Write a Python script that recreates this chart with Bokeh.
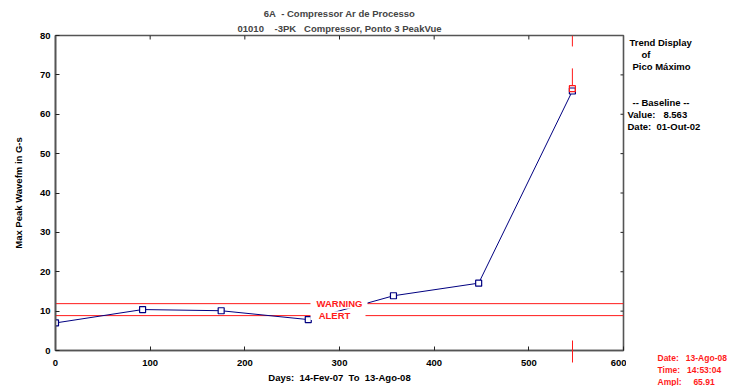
from bokeh.plotting import figure
from bokeh.models import Range1d, FixedTicker, Title
from bokeh.layouts import row
from bokeh.core.properties import value
from bokeh.embed import file_html
from bokeh.resources import INLINE

NB = "\u00a0"

# ---- data ----
days = [0, 92, 175, 267, 357, 447, 546]
peak = [7.0, 10.4, 10.1, 7.85, 13.9, 17.1, 65.91]
warning_level = 11.9
alert_level = 8.86
cursor_day = 546
cursor_value = 66.5
x_ticks = [0, 100, 200, 300, 400, 500, 600]
y_ticks = [0, 10, 20, 30, 40, 50, 60, 70, 80]

title1 = "6A" + NB * 2 + "- Compressor Ar de Processo"
title2 = "01010" + NB * 4 + "-3PK" + NB * 3 + "Compressor, Ponto 3 PeakVue"
x_label = "Days:" + NB * 2 + "14-Fev-07" + NB * 2 + "To" + NB * 2 + "13-Ago-08"
y_label = "Max Peak Wavefm in G-s"
side_lines = ["Trend Display", "of", "Pico M\u00e1ximo", "--" + NB + "Baseline" + NB + "--",
              "Value:" + NB * 3 + "8.563", "Date:" + NB * 2 + "01-Out-02"]
cursor_lines = ["Date:" + NB * 3 + "13-Ago-08", "Time:" + NB * 3 + "14:53:04", "Ampl:" + NB * 5 + "65.91"]

FONT = "Liberation Sans"
FS = "9.5px"
RED = "#ff1a1a"
NAVY = "#000080"
AX = "#555555"

# frame geometry in page pixels (used only to place annotations)
FX0, FX1, FY0, FY1 = 55, 623, 35, 351
XMAX, YMAX = x_ticks[-1], y_ticks[-1]
def dx(px):
    return (px - FX0) / (FX1 - FX0) * XMAX
def dy(py):
    return (FY1 - py) / (FY1 - FY0) * YMAX
PXX = XMAX / (FX1 - FX0)   # data units per pixel (x)
PXY = YMAX / (FY1 - FY0)   # data units per pixel (y)

p = figure(width=626, height=386, output_backend="svg", toolbar_location=None,
           x_range=Range1d(0, XMAX), y_range=Range1d(0, YMAX),
           min_border_left=55, min_border_right=3, min_border_top=35, min_border_bottom=35)
p.grid.visible = False
p.outline_line_color = AX
p.outline_line_width = 1.6
p.background_fill_color = "white"
p.border_fill_color = "white"

for ax in (p.xaxis[0], p.yaxis[0]):
    ax.axis_line_color = AX
    ax.axis_line_width = 1.6
    ax.major_tick_line_color = "#222222"
    ax.major_tick_in = 4
    ax.major_tick_out = 0
    ax.major_label_text_font = FONT
    ax.major_label_text_font_style = "bold"
    ax.major_label_text_font_size = FS
    ax.major_label_text_color = "black"
    ax.axis_label_text_font = FONT
    ax.axis_label_text_font_style = "bold"
    ax.axis_label_text_font_size = FS
    ax.axis_label_text_color = "black"

p.xaxis.ticker = FixedTicker(ticks=x_ticks, minor_ticks=[cursor_day])
p.xaxis.minor_tick_line_color = RED
p.xaxis.minor_tick_line_width = 1
p.xaxis.minor_tick_in = 10
p.xaxis.minor_tick_out = 12
p.xaxis.major_label_standoff = -3
p.xaxis.axis_label = x_label
p.xaxis.axis_label_standoff = 3

p.yaxis.ticker = FixedTicker(ticks=y_ticks)
p.yaxis.minor_tick_line_color = None
p.yaxis.major_label_standoff = 5
p.yaxis.axis_label = y_label
p.yaxis.axis_label_standoff = 13

# titles (later added = further from frame)
p.add_layout(Title(text=title2, align="center", text_font=FONT, text_font_style="bold",
                   text_font_size=FS, standoff=4), "above")
p.add_layout(Title(text=title1, align="center", text_font=FONT, text_font_style="bold",
                   text_font_size=FS, standoff=0), "above")

# inner tick marks on top and right edges of the frame
p.segment(x0=x_ticks[1:-1], y0=[YMAX] * (len(x_ticks) - 2), x1=x_ticks[1:-1],
          y1=[YMAX - 4 * PXY] * (len(x_ticks) - 2), line_color="#222222", line_width=1)
p.segment(x0=[XMAX] * (len(y_ticks) - 2), y0=y_ticks[1:-1], x1=[XMAX - 3 * PXX] * (len(y_ticks) - 2),
          y1=y_ticks[1:-1], line_color="#222222", line_width=1)

# warning / alert lines
p.line([x_ticks[0], x_ticks[-1]], [warning_level, warning_level], line_color=RED, line_width=1)
p.line([x_ticks[0], x_ticks[-1]], [alert_level, alert_level], line_color=RED, line_width=1)

# trend series
p.line(days, peak, line_color=NAVY, line_width=1)
p.scatter(days, peak, marker="square", size=6, line_color=NAVY, fill_color="white", line_width=1.2)

# label boxes for warning / alert (mask the lines behind text)
p.quad(left=[dx(310)], right=[dx(367)], bottom=[dy(309)], top=[dy(299.5)], fill_color="white", line_color=None)
p.quad(left=[dx(310)], right=[dx(365)], bottom=[dy(320.5)], top=[dy(311.5)], fill_color="white", line_color=None)
p.text(x=[dx(339)], y=[warning_level], text=["WARNING"], text_color=RED, text_font=value(FONT),
       text_font_style="bold", text_font_size=FS, text_align="center", text_baseline="middle")
p.text(x=[dx(334)], y=[alert_level], text=["ALERT"], text_color=RED, text_font=value(FONT),
       text_font_style="bold", text_font_size=FS, text_align="center", text_baseline="middle")

# cursor (upper part)
p.segment(x0=[cursor_day, cursor_day], y0=[YMAX, dy(68)], x1=[cursor_day, cursor_day], y1=[dy(46), dy(85)],
          line_color=RED, line_width=1)
p.scatter([cursor_day], [cursor_value], marker="square", size=6, line_color=RED, fill_color=None, line_width=1.2)

# ---- side panel (texts right of the chart); its frame is aligned with the main frame ----
SX0 = 626
side = figure(width=745 - SX0, height=386, output_backend="svg", toolbar_location=None,
              x_range=Range1d(SX0, 745), y_range=Range1d(FY1, FY0),
              x_axis_location=None, y_axis_location=None,
              min_border_left=0, min_border_right=0, min_border_top=35, min_border_bottom=35)
side.title = None
side.grid.visible = False
side.outline_line_color = None
side.background_fill_color = "white"
side.border_fill_color = "white"

side_x = [629, 641, 632, 632, 627, 627]
side_y = [42, 54.5, 66.5, 102, 114, 126]
side.text(x=side_x, y=side_y, text=side_lines, text_color="black", text_font=value(FONT),
          text_font_style="bold", text_font_size=FS, text_align="left", text_baseline="middle")

# cursor readout below the frame, as one multi-line block (kept within the 35px border)
side.add_layout(Title(text="\n".join(cursor_lines), align="left", offset=657 - SX0, text_color=RED,
                      text_font=FONT, text_font_style="bold", text_font_size="8.5px", standoff=0,
                      text_line_height=1.2), "below")

layout = row(p, side, spacing=0)
open("out.html", "w").write(file_html(layout, INLINE))
